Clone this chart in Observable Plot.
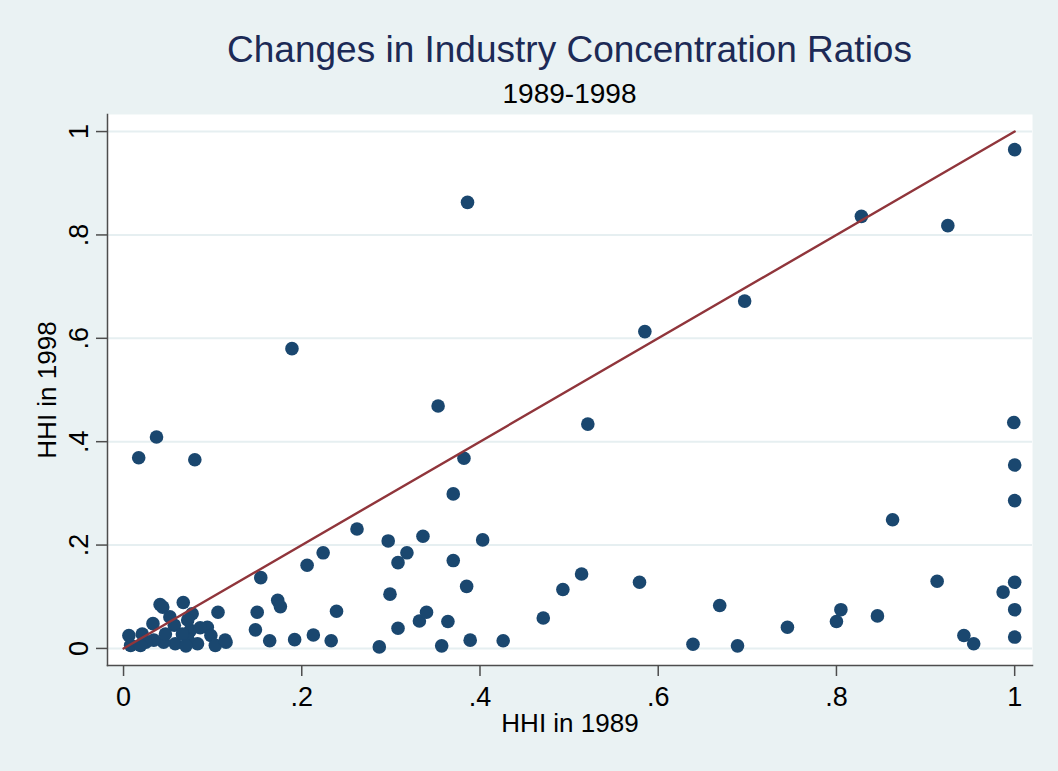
<!DOCTYPE html>
<html>
<head>
<meta charset="utf-8">
<script src="https://cdn.jsdelivr.net/npm/d3@7"></script>
<script src="https://cdn.jsdelivr.net/npm/@observablehq/plot@0.6"></script>
<style>
  html, body { margin: 0; padding: 0; background: #eaf2f3; }
  #wrap { position: relative; width: 1058px; height: 771px; background: #eaf2f3; font-family: "Liberation Sans", Arial, sans-serif; overflow: hidden; }
  #head { position: relative; width: 1058px; height: 112px; }
  #title { position: absolute; left: 107px; width: 925px; top: 31px; text-align: center; font-size: 37px; line-height: 37px; color: #1c2a56; white-space: nowrap; }
  #subtitle { position: absolute; left: 107px; width: 925px; top: 80px; text-align: center; font-size: 28px; line-height: 28px; color: #000; white-space: nowrap; }
  #chart svg { display: block; }
</style>
</head>
<body>
<div id="wrap">
  <div id="head">
    <div id="title"></div>
    <div id="subtitle"></div>
  </div>
  <div id="chart"></div>
</div>
<script>
const titleText = "Changes in Industry Concentration Ratios";
const subtitleText = "1989-1998";
const xTitle = "HHI in 1989";
const yTitle = "HHI in 1998";

const xTicks = [0, 0.2, 0.4, 0.6, 0.8, 1];
const yTicks = [0, 0.2, 0.4, 0.6, 0.8, 1];
const tickLabels = ["0", ".2", ".4", ".6", ".8", "1"];

const lineX = [0, 1];
const lineY = [0, 1];

const hhi1989 = [
  0.017, 0.037, 0.080, 0.189, 0.386, 0.353, 0.382, 0.370, 0.521, 0.585,
  0.697, 0.828, 0.925, 1.000, 0.999, 1.000, 1.000, 0.863,
  0.262, 0.297, 0.336, 0.403, 0.318, 0.206, 0.224, 0.308, 0.370, 0.299,
  0.385, 0.154, 0.493, 0.514, 0.579, 0.913, 0.987, 1.000,
  0.471, 0.639, 0.669, 0.689, 0.745, 0.800, 0.805, 0.846, 0.943, 0.954,
  1.000, 1.000, 0.173, 0.176, 0.239, 0.164, 0.192, 0.213, 0.233, 0.287,
  0.308, 0.332, 0.340, 0.364, 0.357, 0.389, 0.426, 0.150, 0.148,
  0.041, 0.044, 0.067, 0.106, 0.052, 0.077, 0.033, 0.006, 0.021, 0.057,
  0.075, 0.094, 0.098, 0.115, 0.103, 0.083, 0.072, 0.058, 0.045, 0.034,
  0.025, 0.008, 0.019, 0.066, 0.047, 0.072, 0.114, 0.070, 0.086
];
const hhi1998 = [
  0.369, 0.409, 0.365, 0.580, 0.863, 0.469, 0.368, 0.299, 0.434, 0.613,
  0.672, 0.836, 0.818, 0.965, 0.437, 0.355, 0.286, 0.249,
  0.231, 0.208, 0.217, 0.210, 0.185, 0.161, 0.185, 0.166, 0.170, 0.105,
  0.120, 0.137, 0.114, 0.144, 0.128, 0.130, 0.109, 0.128,
  0.059, 0.008, 0.083, 0.005, 0.041, 0.052, 0.075, 0.063, 0.025, 0.009,
  0.075, 0.022, 0.093, 0.081, 0.072, 0.015, 0.017, 0.026, 0.015, 0.003,
  0.039, 0.053, 0.070, 0.052, 0.005, 0.016, 0.015, 0.070, 0.036,
  0.085, 0.080, 0.089, 0.070, 0.061, 0.067, 0.048, 0.025, 0.028, 0.045,
  0.035, 0.041, 0.025, 0.012, 0.006, 0.009, 0.019, 0.009, 0.012, 0.016,
  0.012, 0.006, 0.006, 0.028, 0.028, 0.055, 0.016, 0.005, 0.040
];

document.getElementById("title").textContent = titleText;
document.getElementById("subtitle").textContent = subtitleText;

const points = hhi1989.map((v, i) => ({x: v, y: hhi1998[i]}));
const diag = lineX.map((v, i) => ({x: v, y: lineY[i]}));
const fmt = d => tickLabels[xTicks.indexOf(d)];
const fmtY = d => tickLabels[yTicks.indexOf(d)];

const axisColor = "#4d4d4d";
const gridColor = "#e6eff1";
const font = 26;
const tickFont = 27;

const chart = Plot.plot({
  width: 1058,
  height: 659,
  marginTop: 2,
  marginBottom: 106,
  marginLeft: 107,
  marginRight: 26,
  x: {domain: [-0.018, 1.020], axis: null},
  y: {domain: [-0.033, 1.033], axis: null},
  style: {background: "transparent", fontFamily: "'Liberation Sans', Arial, sans-serif", color: "#000"},
  marks: [
    Plot.frame({fill: "white", stroke: null}),
    Plot.ruleY(yTicks, {stroke: gridColor, strokeWidth: 2}),
    Plot.dot(points, {x: "x", y: "y", r: 6.8, fill: "#1a476f", stroke: null}),
    Plot.line(diag, {x: "x", y: "y", stroke: "#90353b", strokeWidth: 2.4}),
    Plot.frame({anchor: "left", stroke: axisColor, strokeWidth: 1.5}),
    Plot.frame({anchor: "bottom", stroke: axisColor, strokeWidth: 1.5}),
    Plot.axisX({ticks: xTicks, tickSize: 11, tickPadding: 10, tickFormat: fmt, fontSize: tickFont, label: null, stroke: axisColor, strokeWidth: 1.5, fill: "#000"}),
    Plot.axisY({ticks: yTicks, tickSize: 11, tickFormat: () => "", label: null, stroke: axisColor, strokeWidth: 1.5}),
    Plot.text(yTicks, {y: d => d, text: fmtY, frameAnchor: "left", dx: -20, rotate: -90, textAnchor: "middle", lineAnchor: "bottom", fontSize: tickFont, fill: "#000"}),
    Plot.text([xTitle], {text: d => d, frameAnchor: "bottom", dy: 66, lineAnchor: "bottom", textAnchor: "middle", fontSize: font, fill: "#000"}),
    Plot.text([yTitle], {text: d => d, frameAnchor: "left", dx: -52, rotate: -90, lineAnchor: "bottom", textAnchor: "middle", fontSize: font, fill: "#000"})
  ]
});
document.getElementById("chart").appendChild(chart);
</script>
</body>
</html>
